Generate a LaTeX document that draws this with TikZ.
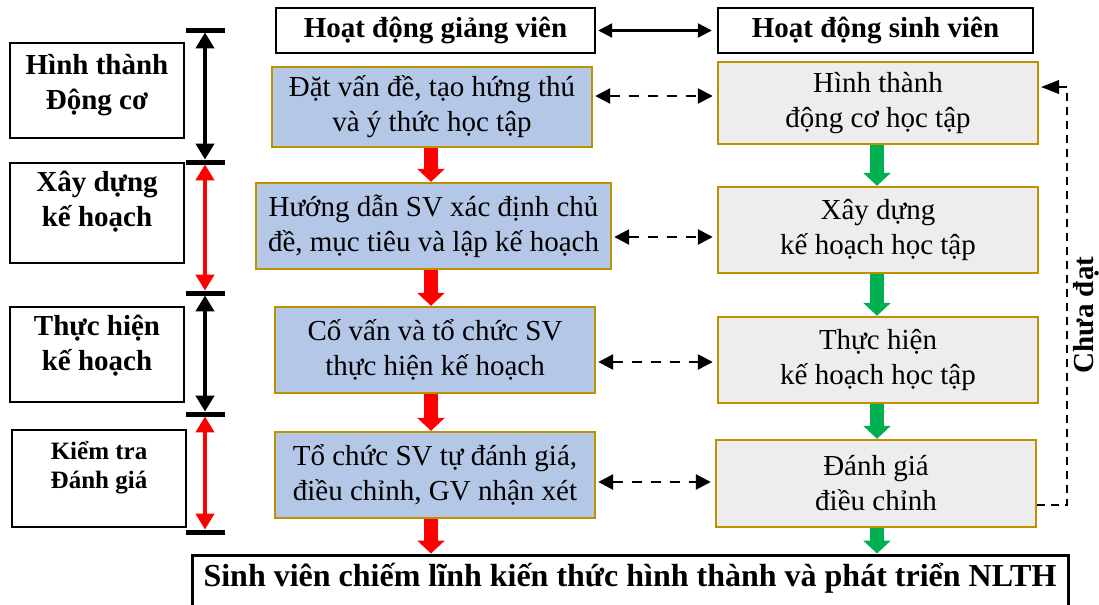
\documentclass[tikz,border=0pt]{standalone}
\usepackage{fontspec}
\setmainfont{Liberation Serif}
\usetikzlibrary{arrows.meta}
\definecolor{teachBlue}{RGB}{180,199,231}
\definecolor{studGrey}{RGB}{237,237,237}
\definecolor{edgeGold}{RGB}{191,144,0}
\definecolor{stepGreen}{RGB}{0,176,80}
\newcommand{\boxfont}{\fontsize{14.5}{17.5}\selectfont}
\tikzset{
    phase/.style={draw, line width=1pt, align=center, inner sep=0pt, text depth=14pt, font=\boxfont\bfseries},
    header/.style={draw, line width=1.2pt, align=center, inner sep=0pt, minimum height=22.5pt, font=\boxfont\bfseries},
    teacher/.style={draw=edgeGold, fill=teachBlue, line width=1.2pt, align=center, inner sep=0pt, font=\boxfont},
    student/.style={draw=edgeGold, fill=studGrey, line width=1.2pt, align=center, inner sep=0pt, font=\boxfont},
    bar/.style={line width=2.5pt},
    span/.style={line width=2pt, shorten <=1.2pt, shorten >=1.2pt,
        {Triangle[width=9pt,length=8pt]}-{Triangle[width=9pt,length=8pt]}},
    down/.style={line width=7pt, -{Triangle[width=13.5pt,length=6.5pt]}},
    link/.style={line width=1.3pt, dash pattern=on 5pt off 4.5pt, shorten <=1pt, shorten >=2pt,
        {Triangle[width=7.5pt,length=7.5pt]}-{Triangle[width=7.5pt,length=7.5pt]}},
    back/.style={line width=0.6pt, dash pattern=on 4pt off 3pt, shorten >=1pt,
        -{Triangle[width=7pt,length=9pt]}}
}

\begin{document}
\begin{tikzpicture}[x=0.5pt, y=-0.5pt]
    \useasboundingbox (0,0) rectangle (1099,605);

    % Phases on the left
    \node[phase, minimum width=87pt, minimum height=47.5pt, text depth=9pt] (ph1) at (97,90.5) {Hình thành\\Động cơ};
    \node[phase, minimum width=87pt, minimum height=50pt] (ph2) at (97,213) {Xây dựng\\kế hoạch};
    \node[phase, minimum width=87pt, minimum height=47.5pt, text depth=12pt] (ph3) at (97,354.5) {Thực hiện\\kế hoạch};
    \node[phase, minimum width=87pt, minimum height=48.5pt, font=\fontsize{12.5}{14.5}\selectfont\bfseries] (ph4) at (99,478.5) {Kiểm tra\\Đánh giá};

    % Brackets
    \foreach \y [count=\i] in {30,162,293,414,532}
        \coordinate (t\i) at (205,\y);
    \draw[span] (t1) -- (t2);
    \draw[span, red] (t2) -- (t3);
    \draw[span] (t3) -- (t4);
    \draw[span, red] (t4) -- (t5);
    \foreach \i in {1,...,5}
        \draw[bar] ([xshift=-9.5pt]t\i) -- ([xshift=10pt]t\i);

    % Headers
    \node[header, minimum width=159.5pt] (gv) at (435.5,30.5) {Hoạt động giảng viên};
    \node[header, minimum width=157.5pt] (sv) at (875.5,30.5) {Hoạt động sinh viên};
    \draw[line width=1.2pt, shorten <=1pt, shorten >=2.5pt,
        {Triangle[width=7pt,length=7pt]}-{Triangle[width=7pt,length=7pt]}] (gv) -- (sv);

    % Lecturer column
    \node[teacher, minimum width=160pt, minimum height=40pt] (b1) at (432,107) {Đặt vấn đề, tạo hứng thú\\và ý thức học tập};
    \node[teacher, minimum width=177.5pt, minimum height=43pt] (b2) at (433.5,226) {Hướng dẫn SV xác định chủ\\đề, mục tiêu và lập kế hoạch};
    \node[teacher, minimum width=160pt, minimum height=43pt] (b3) at (435,350) {Cố vấn và tổ chức SV\\thực hiện kế hoạch};
    \node[teacher, minimum width=160pt, minimum height=43pt] (b4) at (435,475) {Tổ chức SV tự đánh giá,\\điều chỉnh, GV nhận xét};

    % Student column
    \node[student, minimum width=160pt, minimum height=41pt] (g1) at (878,103) {Hình thành\\động cơ học tập};
    \node[student, minimum width=160pt, minimum height=43pt] (g2) at (878,230) {Xây dựng\\kế hoạch học tập};
    \node[student, minimum width=160pt, minimum height=43pt] (g3) at (878,360) {Thực hiện\\kế hoạch học tập};
    \node[student, minimum width=160pt, minimum height=43.5pt] (g4) at (876,483.5) {Đánh giá\\điều chỉnh};

    % Outcome
    \node[draw, line width=1.5pt, inner sep=0pt, minimum width=438pt, minimum height=30pt,
        text depth=10pt, font=\fontsize{16}{19}\selectfont\bfseries] (nlth) at (630,585)
        {Sinh viên chiếm lĩnh kiến thức hình thành và phát triển NLTH};

    % Down arrows
    \foreach \a/\b in {b1/b2,b2/b3,b3/b4,b4/nlth}
        \draw[down, red] (431,0 |- \a.south) -- (431,0 |- \b.north);
    \foreach \a/\b in {g1/g2,g2/g3,g3/g4,g4/nlth}
        \draw[down, stepGreen] (877,0 |- \a.south) -- (877,0 |- \b.north);

    % Links between columns
    \draw[link] (b1.east |- 0,96) -- (g1.west |- 0,96);
    \draw[link] (b2.east |- 0,237) -- (g2.west |- 0,237);
    \draw[link] (b3.east |- 0,362) -- (g3.west |- 0,362);
    \draw[link] (b4.east |- 0,482) -- (g4.west |- 0,482);

    % Feedback
    \coordinate (fbLow) at (1067,505);
    \coordinate (fbTop) at (1067,87);
    \draw[back] (g4.east |- fbLow) -- (fbLow) -- (fbTop) -- (g1.east |- fbTop);
    \node[rotate=90, font=\boxfont\bfseries] (fail) at (1086,315) {Chưa đạt};
\end{tikzpicture}
\end{document}
